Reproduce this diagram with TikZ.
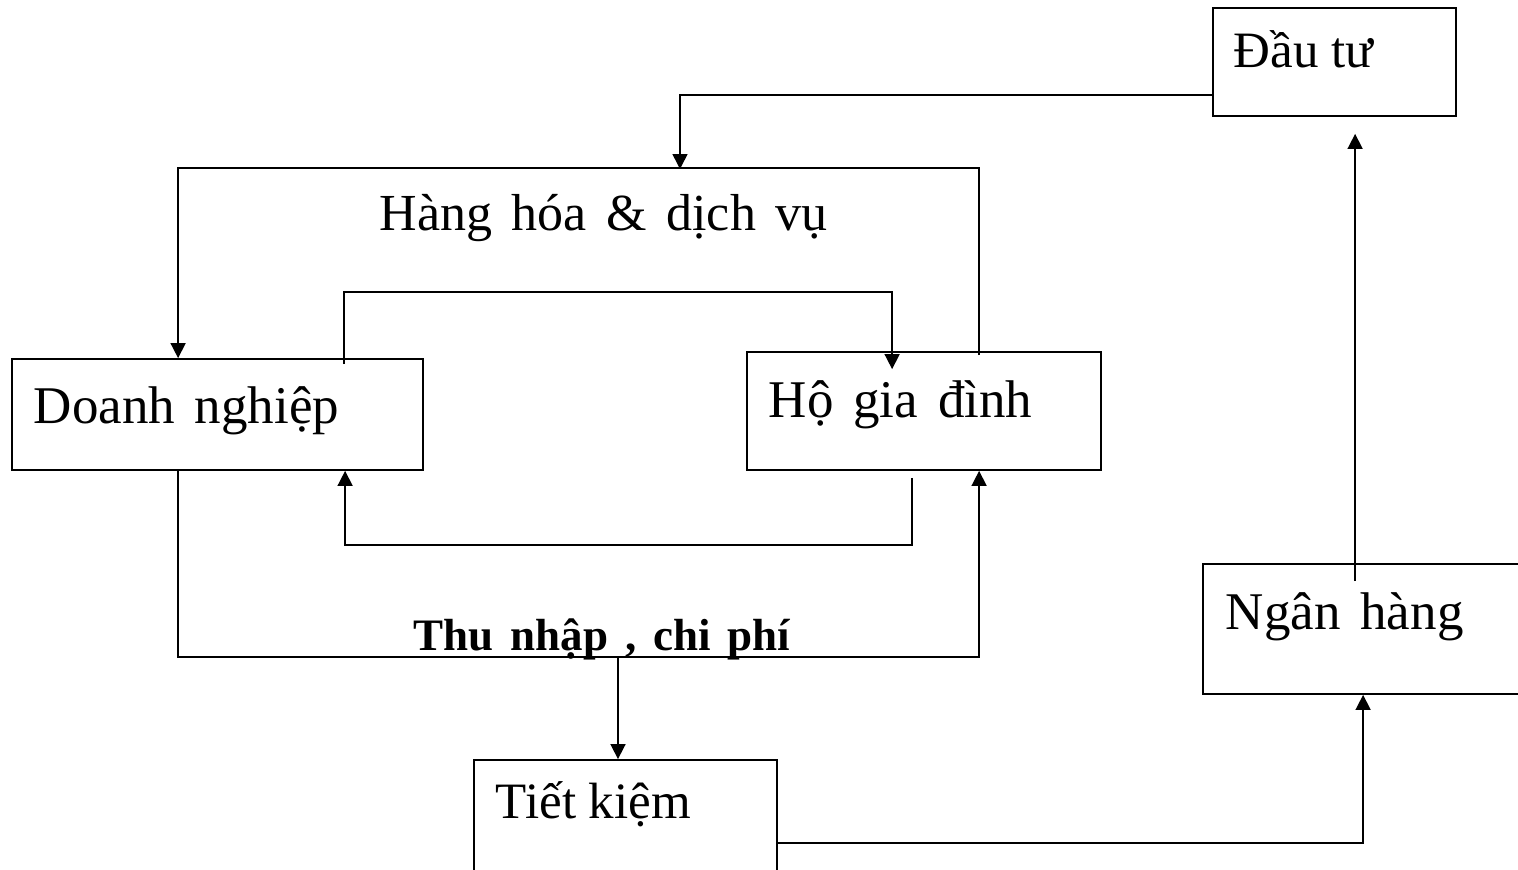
\documentclass[tikz,border=0pt]{standalone}
\usepackage{fontspec}
\setmainfont{Liberation Serif}
\newfontfamily\widefont{Liberation Serif}[WordSpace=1.5]
\usetikzlibrary{calc,arrows.meta}
\begin{document}
\begin{tikzpicture}[x=1pt,y=-1pt,
  line width=1.6pt,
  box/.style={draw,line width=1.8pt,inner sep=0pt},
  txt/.style={anchor=base west,inner sep=0pt,
    font=\widefont\fontsize{53}{60}\selectfont},
  small/.style={anchor=base west,inner sep=0pt,font=\fontsize{51}{60}\selectfont},
  flow/.style={anchor=base west,inner sep=0pt,
    font=\widefont\fontsize{52}{60}\selectfont},
  bold/.style={anchor=base west,inner sep=0pt,
    font=\widefont\fontsize{45}{52}\selectfont\bfseries},
  arr/.style={-{Triangle[width=15pt,length=15pt]}}]
\useasboundingbox (0,0) rectangle (1518,870);

% boxes
\node[box,minimum width=243pt,minimum height=108pt] (dt) at (1334.5,62) {};
\node[box,minimum width=411pt,minimum height=111pt] (dn) at (217.5,414.5) {};
\node[box,minimum width=354pt,minimum height=118pt] (hgd) at (924,411) {};
\node[box,minimum width=327pt,minimum height=130pt] (nh) at (1366.5,629) {};
\node[box,minimum width=303pt,minimum height=130pt] (tk) at (625.5,825) {};

% box texts
\node[small] (tdt) at (1233,67) {Đầu tư};
\node[txt] (tdn) at (33,423) {Doanh nghiệp};
\node[txt] (thgd) at (768,417) {Hộ gia đình};
\node[txt] (tnh) at (1225,629) {Ngân hàng};
\node[small] (ttk) at (495,818) {Tiết kiệm};

% flow labels
\node[flow] (lhh) at (379,230) {Hàng hóa \& dịch vụ};
\node[bold] (ltn) at (413,650) {Thu nhập , chi phí};

% junction points on the two outer loops
\coordinate (gtop) at (680,169);
\coordinate (gbot) at (618,656);

% investment into goods loop
\draw[arr] ($(dt.south west)+(0,-22)$) -| (gtop);

% goods & services: households -> firms (outer top loop)
\draw[arr] ($(hgd.north west)+(233,4)$) -- ($(hgd.north west)+(233,-183)$)
  -| ($(dn.north west)+(167,0)$);

% inner top loop: firms -> households
\draw[arr] ($(dn.north west)+(333,6)$) -- ++(0,-72)
  -| ($(hgd.north west)+(146,18)$);

% inner bottom loop: households -> firms
\draw[arr] ($(hgd.south west)+(166,7)$) -- ++(0,67)
  -| ($(dn.south west)+(334,0)$);

% income & spending: firms -> households (outer bottom loop)
\draw[arr] ($(dn.south west)+(167,0)$) -- ++(0,186)
  -| ($(hgd.south west)+(233,0)$);

% savings
\draw[arr] (gbot) -- (gbot |- tk.north);

% savings -> bank
\draw[arr] ($(tk.north east)+(0,84)$) -| ($(nh.south west)+(161,0)$);

% bank -> investment
\draw[arr] ($(nh.north west)+(153,18)$) -- ($(dt.south west)+(143,17)$);
\end{tikzpicture}
\end{document}
